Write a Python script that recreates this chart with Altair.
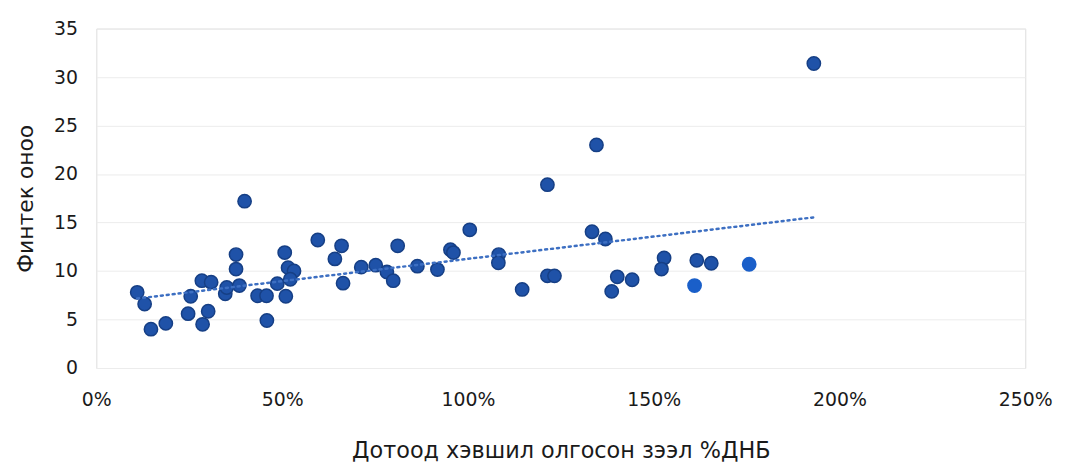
import altair as alt
import pandas as pd

# Domestic credit (% GDP, as fraction) and Fintech score
credit = [0.11, 0.13, 0.147, 0.187, 0.247, 0.254, 0.286, 0.301, 0.284, 0.309,
          0.347, 0.351, 0.385, 0.376, 0.376, 0.399, 0.434, 0.458, 0.459, 0.487,
          0.510, 0.507, 0.516, 0.532, 0.522, 0.596, 0.660, 0.642, 0.664, 0.713,
          0.752, 0.782, 0.799, 0.811, 0.864, 0.918, 0.953, 0.961, 1.005, 1.083,
          1.082, 1.146, 1.214, 1.233, 1.214, 1.346, 1.334, 1.370, 1.402, 1.442,
          1.387, 1.528, 1.521, 1.616, 1.655, 1.931]
score = [7.8, 6.6, 4.0, 4.6, 5.6, 7.4, 4.5, 5.85, 9.0, 8.85,
         7.65, 8.3, 8.5, 10.2, 11.7, 17.2, 7.45, 7.45, 4.9, 8.7,
         7.4, 11.9, 10.35, 10.0, 9.15, 13.2, 12.6, 11.25, 8.75, 10.4,
         10.6, 9.9, 9.0, 12.6, 10.5, 10.15, 12.2, 11.9, 14.25, 11.7,
         10.85, 8.1, 9.5, 9.5, 18.9, 23.0, 14.05, 13.3, 9.4, 9.1,
         7.9, 11.35, 10.2, 11.1, 10.8, 31.4]
# Two lighter highlighted points
credit_b = [1.61, 1.757]
score_b = [8.5, 10.7]

x_ticks = [0, 0.5, 1.0, 1.5, 2.0, 2.5]
y_ticks = [0, 5, 10, 15, 20, 25, 30, 35]

df = pd.DataFrame({"credit": credit + credit_b, "score": score + score_b,
                   "grp": ["a"] * len(credit) + ["b"] * len(credit_b)})

FONT = "DejaVu Sans"
xs = alt.Scale(domain=[0, 2.5], nice=False)
ys = alt.Scale(domain=[0, 35], nice=False)

xenc = alt.X("credit:Q", scale=xs,
             axis=alt.Axis(values=x_ticks, format=".0%", title="Дотоод хэвшил олгосон зээл %ДНБ",
                           grid=False, domain=False, ticks=False, labelPadding=23,
                           labelFlush=False,
                           labelFontSize=19, labelColor="#1a1a1a", labelFont=FONT,
                           titleFontSize=22.5, titleFontWeight="normal", titleColor="#1a1a1a",
                           titleFont=FONT, titlePadding=30))
yenc = alt.Y("score:Q", scale=ys,
             axis=alt.Axis(values=y_ticks, title="Финтек оноо", grid=True, gridColor="#ececec",
                           domain=False, ticks=False, labelPadding=19,
                           labelFontSize=19, labelColor="#1a1a1a", labelFont=FONT,
                           titleFontSize=22, titleFontWeight="normal", titleColor="#1a1a1a",
                           titleFont=FONT, titlePadding=16))

base = alt.Chart(df)

trend = base.transform_regression("credit", "score").mark_line(
    color="#3d6fc2", strokeDash=[2, 4], strokeWidth=2.5, strokeCap="round"
).encode(x=alt.X("credit:Q", scale=xs), y=alt.Y("score:Q", scale=ys))

pts = base.mark_point(filled=True, size=180, opacity=1, strokeWidth=1.5).encode(
    x=xenc, y=yenc,
    color=alt.Color("grp:N", scale=alt.Scale(domain=["a", "b"], range=["#1f52a8", "#1a5fc9"]), legend=None),
    stroke=alt.Stroke("grp:N", scale=alt.Scale(domain=["a", "b"], range=["#163f85", "#1a5fc9"]), legend=None),
)

chart = alt.layer(pts, trend).properties(
    width=936, height=342,
    autosize=alt.AutoSizeParams(type="none"),
    padding={"left": 89, "top": 19, "right": 35, "bottom": 95},
).configure_view(stroke=None).configure(background="white")

chart.save("out.html", embed_options={"renderer": "svg", "actions": False})
